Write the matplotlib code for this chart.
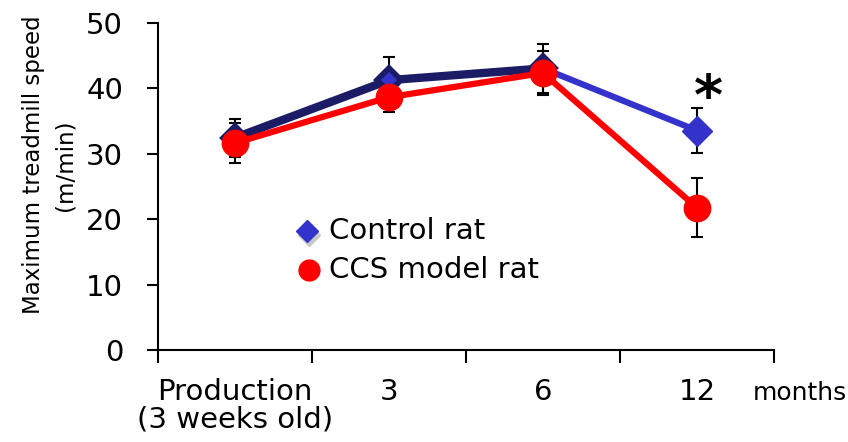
import numpy as np
import matplotlib
matplotlib.use('Agg')
import matplotlib.pyplot as plt

labels = ['Production\n(3 weeks old)', '3', '6', '12']
control = [32.4, 41.2, 43.0, 33.5]
control_err = [2.9, 3.5, 3.7, 3.4]
ccs = [31.6, 38.6, 42.3, 21.7]
ccs_err = [3.1, 2.2, 3.4, 4.5]

blue = '#3333cc'
navy = '#1c1c66'
red = '#ff0000'

plt.rcParams['font.family'] = 'DejaVu Sans'

fig = plt.figure(figsize=(8.48, 4.42), dpi=100)
ax = fig.add_axes([0.186, 0.208, 0.727, 0.741])

x = np.arange(len(labels))

# error bars behind the markers
ax.errorbar(x, control, yerr=control_err, fmt='none', ecolor='black',
            elinewidth=1.5, capsize=4.5, capthick=1.5, zorder=1)
ax.errorbar(x, ccs, yerr=ccs_err, fmt='none', ecolor='black',
            elinewidth=1.5, capsize=4.5, capthick=1.5, zorder=1)

# control: dark line up to 6 months, lighter to 12
ax.plot(x[:3], control[:3], color=navy, lw=6, zorder=2,
        solid_joinstyle='round', solid_capstyle='round')
ax.plot(x[2:], control[2:], color=blue, lw=4.5, zorder=2,
        solid_capstyle='round')
ax.plot(x[:3], control[:3], 'D', ms=12, mfc=blue, mec=navy, mew=4, zorder=3)
ax.plot(x[3:], control[3:], 'D', ms=15, mfc=blue, mec=blue, mew=1,
        zorder=3)

ax.plot(x, ccs, color=red, lw=4.5, zorder=4, solid_joinstyle='round')
ax.plot(x, ccs, 'o', ms=19, color=red, zorder=5)

ax.text(3.07, 42.5, '*', fontsize=40, fontweight='bold', ha='center',
        va='top')

# legend drawn by hand
ax.plot([0.245], [0.350], 'D', ms=11.5, color='#c8c8c8',
        transform=ax.transAxes, clip_on=False)
ax.plot([0.242], [0.364], 'D', ms=11.5, color=blue,
        transform=ax.transAxes, clip_on=False)
ax.plot([0.245], [0.244], 'o', ms=15, color=red,
        transform=ax.transAxes, clip_on=False)
ax.text(0.278, 0.364, 'Control rat', fontsize=21, va='center',
        transform=ax.transAxes)
ax.text(0.278, 0.244, 'CCS model rat', fontsize=21, va='center',
        transform=ax.transAxes)

ax.set_xlim(-0.5, 3.5)
ax.set_ylim(0, 50)
ax.set_yticks(range(0, 51, 10))
ax.set_xticks(np.arange(-0.5, 3.6, 1))
ax.set_xticklabels([])
ax.set_xticks(x, minor=True)
ax.set_xticklabels(labels, minor=True, fontsize=21, linespacing=1.0)
ax.tick_params(axis='x', which='minor', length=0, pad=20)
ax.tick_params(axis='x', which='major', length=9, width=1.5)
ax.tick_params(axis='y', length=8, width=1.5, labelsize=21, pad=17)
ax.text(3.36, -0.153, 'months', fontsize=18, ha='left', va='baseline',
        transform=ax.get_xaxis_transform())

for s in ['top', 'right']:
    ax.spines[s].set_visible(False)
for s in ['left', 'bottom']:
    ax.spines[s].set_linewidth(1.5)

fig.text(0.058, 0.627, 'Maximum treadmill speed\n(m/min)', rotation=90,
         ha='center', va='center', fontsize=16.5, linespacing=1.5,
         multialignment='center')

fig.savefig('out.png', dpi=100)
